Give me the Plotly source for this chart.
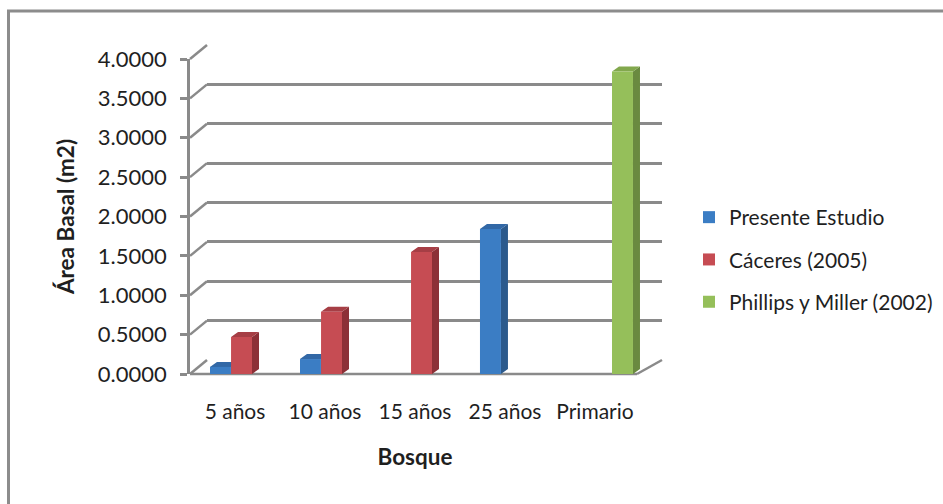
import plotly.graph_objects as go

# ---- data ----
categories = ["5 años", "10 años", "15 años", "25 años", "Primario"]
presente_estudio = [0.09, 0.19, None, 1.84, None]
caceres_2005 = [0.47, 0.79, 1.55, None, None]
phillips_miller_2002 = [None, None, None, None, 3.84]
y_tick_values = [0.0, 0.5, 1.0, 1.5, 2.0, 2.5, 3.0, 3.5, 4.0]

# ---- canvas geometry (pixels) ----
W, H = 943, 504
FRONT_L, FRONT_R = 190, 640      # front plane, left/right
FRONT_B, FRONT_T = 374, 59       # front plane, value 0 / value 4
DEPTH_X, DEPTH_Y = 17, 14        # shift of the back wall
BACK_R = 662
Y_MAX = 4.0

def fx(px):
    return px / W

def fy(py):
    return 1 - py / H

GRID = "#8A8A8A"
FONT = "Lato, 'Open Sans', sans-serif"
TEXT = "#1F1F1F"

BAR_W = 0.233
DX = 7 / ((FRONT_R - FRONT_L) / 5)               # bar depth in category units
DY = 5 / ((FRONT_B - FRONT_T) / Y_MAX)            # bar depth in value units

series = [
    ("Presente Estudio", presente_estudio, -0.278, "#3B7DC4", "#2C5A8C", "#3268A6"),
    ("Cáceres (2005)", caceres_2005, -0.044, "#C64C53", "#8C3037", "#A63E45"),
    ("Phillips y Miller (2002)", phillips_miller_2002, 0.189, "#95BF5A", "#6A8A40", "#82A84D"),
]

fig = go.Figure()

# back wall subplot (x, y): only its gridlines are shown
fig.add_trace(go.Scatter(x=[None], y=[None], xaxis="x", yaxis="y",
                         showlegend=False, hoverinfo="skip"))

# depth faces (side + top) of every column, drawn under the front faces
for name, vals, off, c_front, c_side, c_top in series:
    sx, sy, tx, ty = [], [], [], []
    for i, v in enumerate(vals):
        if v is None:
            continue
        xl = i + off
        xr = xl + BAR_W
        sx += [xr, xr, xr + DX, xr + DX, xr, None]
        sy += [0, v, v + DY, DY, 0, None]
        tx += [xl, xr, xr + DX, xl + DX, xl, None]
        ty += [v, v, v + DY, v + DY, v, None]
    fig.add_trace(go.Scatter(x=sx, y=sy, xaxis="x2", yaxis="y2", mode="lines",
                             fill="toself", fillcolor=c_side, line=dict(width=0, color=c_side),
                             showlegend=False, hoverinfo="skip"))
    fig.add_trace(go.Scatter(x=tx, y=ty, xaxis="x2", yaxis="y2", mode="lines",
                             fill="toself", fillcolor=c_top, line=dict(width=0, color=c_top),
                             showlegend=False, hoverinfo="skip"))

# front faces of the columns
for k, (name, vals, off, c_front, c_side, c_top) in enumerate(series):
    fig.add_trace(go.Bar(
        x=list(range(len(categories))), y=vals, name=name,
        xaxis="x3", yaxis="y3", width=BAR_W, offset=off,
        marker=dict(color=c_front, line=dict(width=0)),
        legendgroup=f"g{k}",
    ))

# floor edges and the slanted links between the value axis and the back wall
shapes = []
def seg(x0, y0, x1, y1):
    shapes.append(dict(type="line", xref="paper", yref="paper", layer="below",
                       x0=fx(x0), y0=fy(y0), x1=fx(x1), y1=fy(y1),
                       line=dict(color=GRID, width=2.5)))

px_per_unit = (FRONT_B - FRONT_T) / Y_MAX
for v in y_tick_values:
    yy = FRONT_B - v * px_per_unit
    seg(FRONT_L, yy, FRONT_L + DEPTH_X, yy - DEPTH_Y)
seg(FRONT_L, FRONT_B, FRONT_R - 3, FRONT_B)
seg(FRONT_R - 3, FRONT_B, BACK_R, FRONT_B - DEPTH_Y)

# chart frame
shapes.append(dict(type="rect", xref="paper", yref="paper", layer="above",
                   x0=fx(8.5), y0=fy(11), x1=1.05, y1=-0.05,
                   line=dict(color="#8C8C8C", width=3), fillcolor="rgba(0,0,0,0)"))

front_xdom = [fx(FRONT_L), fx(FRONT_R)]
front_ydom = [fy(FRONT_B), fy(FRONT_T)]

fig.update_layout(
    width=W, height=H,
    margin=dict(l=0, r=0, t=0, b=0, pad=0, autoexpand=False),
    paper_bgcolor="white", plot_bgcolor="rgba(0,0,0,0)",
    font=dict(family=FONT, size=21, color=TEXT),
    barmode="overlay",
    showlegend=True,
    legend=dict(x=fx(689), y=fy(197), xanchor="left", yanchor="top",
                font=dict(size=21, color=TEXT), tracegroupgap=12,
                bgcolor="rgba(0,0,0,0)", borderwidth=0),
    shapes=shapes,
    # back wall
    xaxis=dict(domain=[fx(FRONT_L + DEPTH_X), fx(BACK_R)], range=[-0.5, 4.5],
               visible=False, anchor="y", automargin=False),
    yaxis=dict(domain=[fy(FRONT_B - DEPTH_Y), fy(FRONT_T - DEPTH_Y)], range=[0, Y_MAX],
               anchor="x", tickmode="array", tickvals=y_tick_values, automargin=False,
               showgrid=True, gridcolor=GRID, gridwidth=2.5,
               showticklabels=False, ticks="", zeroline=False, showline=False),
    # column depth faces
    xaxis2=dict(domain=front_xdom, range=[-0.5, 4.5], visible=False, anchor="y2",
                automargin=False),
    yaxis2=dict(domain=front_ydom, range=[0, Y_MAX], visible=False, anchor="x2",
                automargin=False),
    # front plane with the labelled axes
    xaxis3=dict(domain=front_xdom, range=[-0.5, 4.5], anchor="y3", automargin=False,
                tickmode="array", tickvals=list(range(len(categories))), ticktext=categories,
                ticks="", showline=False, showgrid=False, zeroline=False,
                ticklabelstandoff=23, tickfont=dict(size=21),
                title=dict(text="<b>Bosque</b>", font=dict(size=22.5), standoff=27)),
    yaxis3=dict(domain=front_ydom, range=[0, Y_MAX], anchor="x3", automargin=False,
                tickmode="array", tickvals=y_tick_values, tickformat=".4f",
                ticks="outside", ticklen=7, tickwidth=2.5, tickcolor=GRID,
                showline=True, linecolor=GRID, linewidth=2.5,
                showgrid=False, zeroline=False, ticklabelstandoff=9,
                tickfont=dict(size=22),
                title=dict(text="<b>Área Basal (m2)</b>", font=dict(size=22.5), standoff=17)),
)

fig.write_html("out.html")
